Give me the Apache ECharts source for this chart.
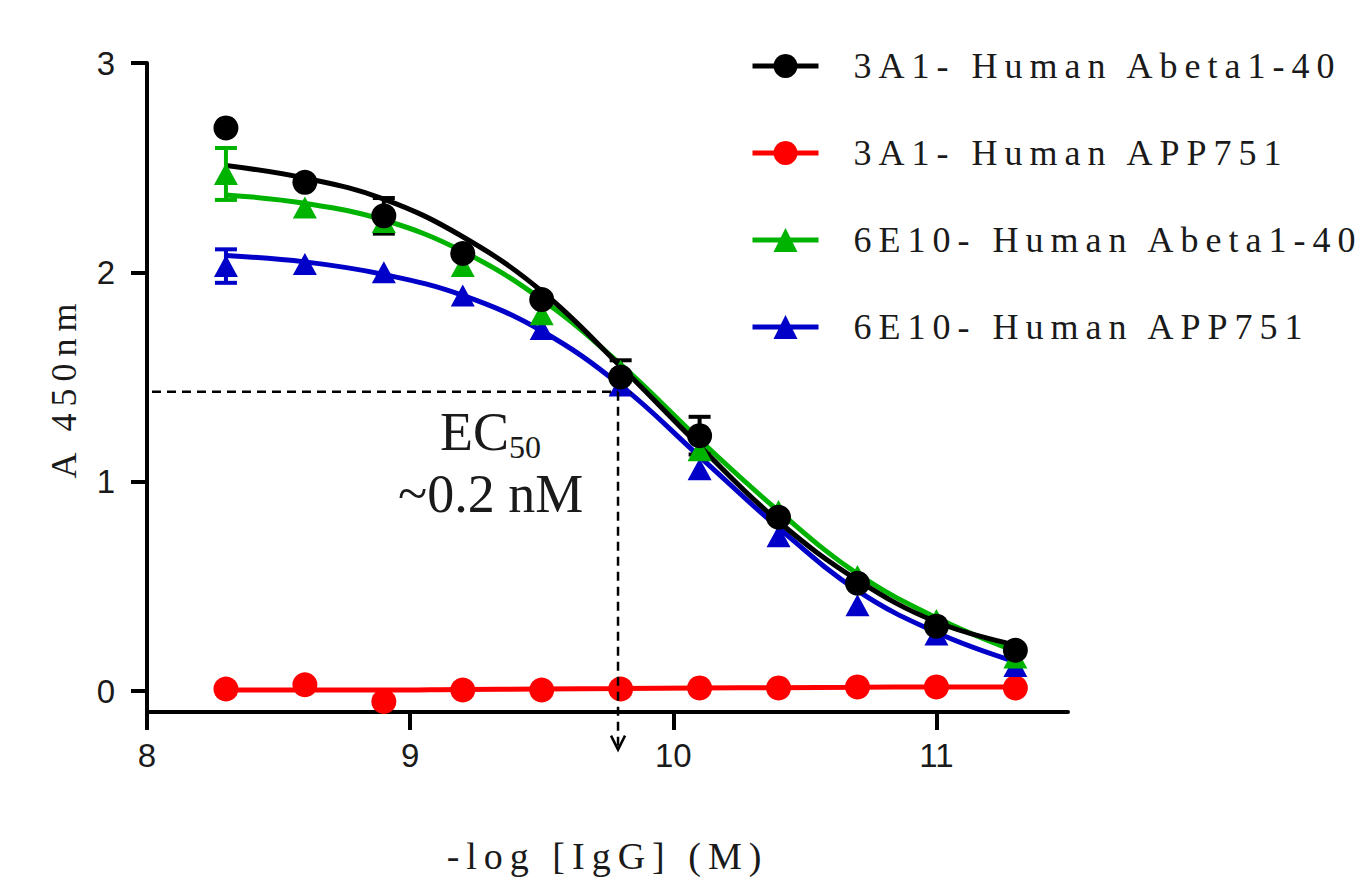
<!DOCTYPE html>
<html>
<head>
<meta charset="utf-8">
<script src="https://cdn.jsdelivr.net/npm/echarts@6/dist/echarts.min.js"></script>
<style>
  html, body { margin: 0; padding: 0; background: #fff; }
  #main { width: 1371px; height: 877px; }
  /* spaced serif text (legend, axis names) */
  #main text[style*="Liberation Serif"] { letter-spacing: 7px; }
</style>
</head>
<body>
<div id="main"></div>
<script>
// -log [IgG] (M)
var xVals = [8.3, 8.6, 8.9, 9.2, 9.5, 9.8, 10.1, 10.4, 10.7, 11.0, 11.3];

// 3A1 - Human Abeta1-40
var abeta3A1 = [2.69, 2.43, 2.27, 2.09, 1.87, 1.50, 1.22, 0.83, 0.515, 0.31, 0.195];
var abeta3A1Err = [0, 0, 0.085, 0, 0, 0.08, 0.09, 0, 0, 0, 0];
var abeta3A1Fit = [2.51, 2.45, 2.35, 2.17, 1.91, 1.55, 1.17, 0.81, 0.53, 0.33, 0.22];

// 3A1 - Human APP751
var app3A1 = [0.01, 0.03, -0.05, 0.005, 0.005, 0.01, 0.015, 0.015, 0.02, 0.02, 0.015];
var app3A1Err = [0, 0, 0, 0, 0, 0, 0, 0, 0, 0, 0];
var app3A1Fit = [0.005, 0.005, 0.005, 0.008, 0.01, 0.012, 0.015, 0.016, 0.018, 0.02, 0.02];

// 6E10 - Human Abeta1-40
var abeta6E10 = [2.47, 2.31, 2.24, 2.03, 1.80, 1.53, 1.15, 0.86, 0.55, 0.34, 0.16];
var abeta6E10Err = [0.124, 0, 0, 0, 0, 0, 0, 0, 0, 0, 0];
var abeta6E10Fit = [2.37, 2.33, 2.25, 2.10, 1.87, 1.56, 1.20, 0.86, 0.56, 0.35, 0.19];

// 6E10 - Human APP751
var app6E10 = [2.03, 2.04, 2.00, 1.89, 1.73, 1.46, 1.06, 0.74, 0.41, 0.27, 0.12];
var app6E10Err = [0.08, 0, 0, 0, 0, 0, 0, 0, 0, 0, 0];
var app6E10Fit = [2.08, 2.05, 1.99, 1.89, 1.72, 1.46, 1.12, 0.78, 0.48, 0.28, 0.14];

// EC50 guide
var ec50X = 9.79, ec50Y = 1.43, arrowTipY = -0.28;

var xTicks = [8, 9, 10, 11];
var yTicks = [0, 1, 2, 3];

var names = ['3A1- Human Abeta1-40', '3A1- Human APP751', '6E10- Human Abeta1-40', '6E10- Human APP751'];

function pairs(ys){
    var out = [];
    for (var i = 0; i < xVals.length; i++) out.push([xVals[i], ys[i]]);
    return out;
}
function triples(ys, es){
    var out = [];
    for (var i = 0; i < xVals.length; i++) out.push([xVals[i], ys[i], es[i]]);
    return out;
}

var groups = [
    {name: names[1], color: '#ff0000', symbol: 'circle', size: 25, y: app3A1, e: app3A1Err, fit: app3A1Fit},
    {name: names[3], color: '#0000c8', symbol: 'triangle', size: [24, 22], y: app6E10, e: app6E10Err, fit: app6E10Fit},
    {name: names[2], color: '#00b300', symbol: 'triangle', size: [24, 22], y: abeta6E10, e: abeta6E10Err, fit: abeta6E10Fit},
    {name: names[0], color: '#000000', symbol: 'circle', size: 25, y: abeta3A1, e: abeta3A1Err, fit: abeta3A1Fit}
];

function errRender(color){
    return function(params, api){
        var x = api.value(0), y = api.value(1), e = api.value(2);
        if (!(e > 0)) return null;  // SEM smaller than the marker
        var hi = api.coord([x, y + e]), lo = api.coord([x, y - e]);
        var w = 11;
        var st = {stroke: color, lineWidth: 4};
        return {type: 'group', children: [
            {type: 'line', shape: {x1: hi[0], y1: hi[1], x2: lo[0], y2: lo[1]}, style: st},
            {type: 'line', shape: {x1: hi[0] - w, y1: hi[1], x2: hi[0] + w, y2: hi[1]}, style: st},
            {type: 'line', shape: {x1: lo[0] - w, y1: lo[1], x2: lo[0] + w, y2: lo[1]}, style: st}
        ]};
    };
}

var series = [];
groups.forEach(function(g){
    series.push({
        name: g.name, type: 'line', data: pairs(g.fit), smooth: 0.4,
        showSymbol: false, symbol: g.symbol, z: 2, silent: true,
        lineStyle: {color: g.color, width: 5},
        itemStyle: {color: g.color}
    });
});
groups.forEach(function(g){
    series.push({
        name: g.name, type: 'custom', data: triples(g.y, g.e), z: 3,
        renderItem: errRender(g.color)
    });
});
groups.forEach(function(g){
    series.push({
        name: g.name, type: 'scatter', data: pairs(g.y), z: 4,
        symbol: g.symbol, symbolSize: g.size,
        itemStyle: {color: g.color, opacity: 1}
    });
});

// dashed EC50 guide lines with open arrow head
series.push({
    type: 'custom', data: [[ec50X, ec50Y]], z: 5, silent: true,
    renderItem: function(params, api){
        var p = api.coord([api.value(0), api.value(1)]);
        var left = api.coord([8, api.value(1)]);
        var tip = api.coord([api.value(0), arrowTipY]);
        var st = {stroke: '#000', lineWidth: 2.5, lineDash: [9, 6], fill: null};
        return {type: 'group', children: [
            {type: 'line', shape: {x1: left[0] + 5, y1: p[1], x2: p[0], y2: p[1]}, style: st},
            {type: 'line', shape: {x1: p[0], y1: p[1], x2: tip[0], y2: tip[1]}, style: st},
            {type: 'polyline', shape: {points: [[tip[0] - 7, tip[1] - 14], [tip[0], tip[1]], [tip[0] + 7, tip[1] - 14]]},
                style: {stroke: '#000', lineWidth: 2.5, fill: null}}
        ]};
    }
});

var chart = echarts.init(document.getElementById('main'), null, {renderer: 'svg'});
chart.setOption({
    animation: false,
    backgroundColor: '#fff',
    grid: {left: 147, top: 63, right: 303, bottom: 165, containLabel: false, outerBoundsMode: 'none'},
    legend: {
        data: [names[0], names[1], names[2], names[3]],
        orient: 'vertical', left: 745, top: 43,
        itemWidth: 66, itemHeight: 30, itemGap: 51,
        selectedMode: false,
        lineStyle: {width: 5},
        textStyle: {fontFamily: 'Liberation Serif', fontSize: 36, color: '#1a1a1a', padding: [16, 0, 0, 30]}
    },
    xAxis: {
        type: 'value', min: 8, max: 11.5,
        name: '-log [IgG] (M)', nameLocation: 'middle', nameGap: 125,
        nameTextStyle: {fontFamily: 'Liberation Serif', fontSize: 38, color: '#1a1a1a'},
        axisLine: {onZero: false, lineStyle: {color: '#000', width: 4}},
        axisTick: {length: 18, lineStyle: {color: '#000', width: 4}, customValues: xTicks},
        axisLabel: {customValues: xTicks, fontFamily: 'Liberation Sans', fontSize: 33, color: '#1a1a1a', margin: 27},
        splitLine: {show: false}
    },
    yAxis: {
        type: 'value', min: -0.1, max: 3,
        name: 'A 450nm', nameLocation: 'middle', nameGap: 65,
        nameTextStyle: {fontFamily: 'Liberation Serif', fontSize: 36, color: '#1a1a1a'},
        axisLine: {lineStyle: {color: '#000', width: 4}},
        axisTick: {length: 16, lineStyle: {color: '#000', width: 4}, customValues: yTicks},
        axisLabel: {customValues: yTicks, fontFamily: 'Liberation Sans', fontSize: 33, color: '#1a1a1a', margin: 32},
        splitLine: {show: false}
    },
    graphic: [{
        type: 'text', left: 398, top: 405, silent: true,
        style: {
            text: '{m|EC}{s|50}\n{m|~0.2 nM}',
            textAlign: 'center',
            fill: '#1a1a1a',
            rich: {
                m: {fontFamily: 'Times New Roman', fontSize: 54, lineHeight: 62, color: '#1a1a1a', align: 'center'},
                s: {fontFamily: 'Times New Roman', fontSize: 32, lineHeight: 12, verticalAlign: 'bottom', color: '#1a1a1a'}
            }
        }
    }],
    series: series
});
</script>
</body>
</html>
